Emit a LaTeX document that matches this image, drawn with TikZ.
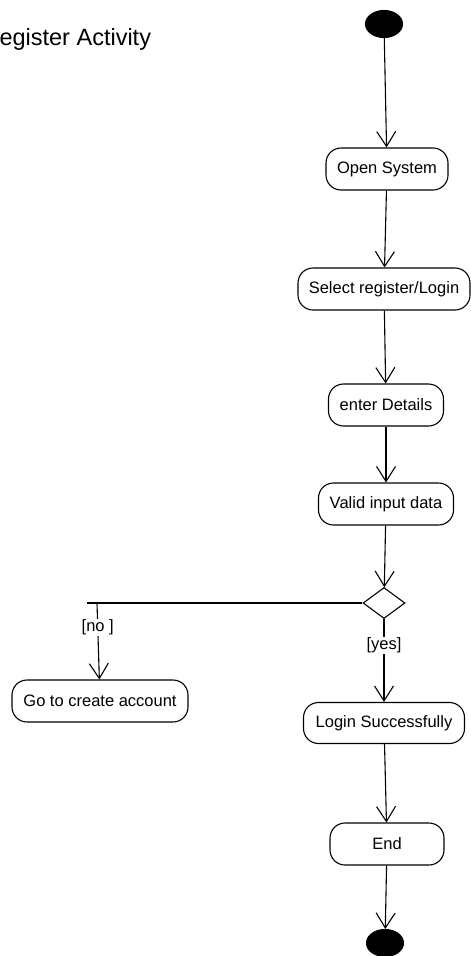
\documentclass[tikz,border=0pt]{standalone}
\usepackage{fontspec}
\setmainfont{Liberation Sans}
\usetikzlibrary{arrows.meta, shapes.geometric}

\begin{document}
\begin{tikzpicture}[x=1pt, y=-1pt, line width=1.1pt,
  act/.style={draw, rounded corners=15pt, minimum height=42pt, inner sep=0pt, font=\fontsize{16.5}{18}\selectfont},
  dot/.style={draw, fill=black, ellipse, minimum width=37pt, minimum height=27pt, inner sep=0pt},
  flow/.style={-{Straight Barb[length=15pt, width=19pt]}},
  guard/.style={fill=white, inner sep=1pt, font=\fontsize{16.5}{18}\selectfont}]
\useasboundingbox (0,0) rectangle (471,956);
\node[anchor=base west, inner sep=0pt, font=\fontsize{23.5}{26}\selectfont] (title) at (-1,45) {egister Activity};
\node[dot] (start) at (384,24) {};
\node[act, minimum width=122pt] (open) at (387,169) {Open System};
\node[act, minimum width=172pt] (select) at (384,289) {Select register/Login};
\node[act, minimum width=115pt] (details) at (386,405) {enter Details};
\node[act, minimum width=135pt] (valid) at (386,504) {Valid input data};
\node[draw, diamond, minimum width=42pt, minimum height=31pt, inner sep=0pt] (dec) at (384,603) {};
\node[act, minimum width=176pt] (goacc) at (100,701) {Go to create account};
\node[act, minimum width=161pt, minimum height=41pt] (login) at (384,723) {Login Successfully};
\node[act, minimum width=114pt] (end) at (387,844) {End};
\node[dot] (stop) at (385,943) {};
\coordinate (left) at (87,603);
\coordinate (branch) at (97,603);

\draw[flow] (start) -- (open);
\draw[flow] (open) -- (select);
\draw[flow] (select) -- (details);
\draw[flow] (details) -- (valid);
\draw[flow] (valid) -- (dec);
\draw (dec.west) -- (left);
\draw[flow] (branch) -- (goacc) node[guard, pos=.32]{[no ]};
\draw[flow] (dec) -- (login) node[guard, pos=.32]{[yes]};
\draw[flow] (login) -- (end);
\draw[flow] (end) -- (stop);
\end{tikzpicture}
\end{document}
